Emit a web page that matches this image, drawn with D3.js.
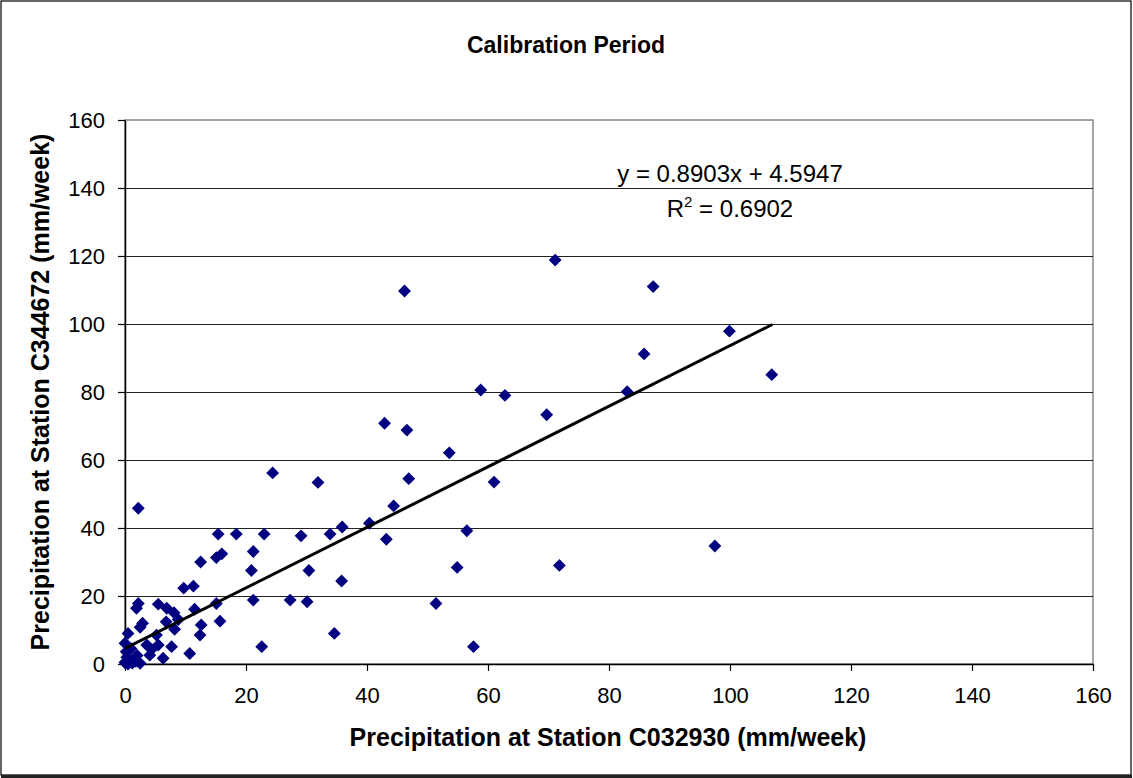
<!DOCTYPE html>
<html>
<head>
<meta charset="utf-8">
<script src="https://cdn.jsdelivr.net/npm/d3@7"></script>
<style>
  html, body { margin: 0; padding: 0; background: #fff; }
  svg { display: block; font-family: "Liberation Sans", Arial, Helvetica, sans-serif; }
</style>
</head>
<body>
<svg id="chart" width="1133" height="778"></svg>
<script>
// ---- data ----
const stationX = [71.1, 87.3, 46.2, 99.9, 85.8, 106.9, 58.8, 62.8, 83.0, 69.7,
  42.9, 46.6, 53.6, 24.4, 31.9, 46.9, 61.0, 44.4, 2.2, 35.9,
  40.4, 29.1, 33.9, 43.2, 56.5, 15.4, 18.4, 23.0, 21.2, 16.0,
  15.1, 12.5, 20.9, 30.4, 35.8, 54.9, 71.8, 97.5, 9.7, 11.3,
  21.2, 27.3, 30.1, 51.4, 15.1, 2.2, 1.9, 5.5, 6.9, 8.1,
  11.5, 15.7, 34.6, 57.6, 22.6, 2.9, 2.5, 6.8, 8.8, 8.2,
  12.6, 12.4, 5.2, 0.5, 0.0, 3.6, 4.4, 5.5, 4.1, 7.7,
  6.3, 10.7, 0.2, 0.3, 0.8, 1.2, 0.1, 1.8, 0.5, 2.0,
  1.0, 0.0, 1.5, 2.5];
const stationY = [118.8, 111.0, 109.7, 97.9, 91.2, 85.1, 80.6, 79.0, 80.1, 73.3,
  70.8, 68.8, 62.1, 56.2, 53.4, 54.5, 53.5, 46.5, 45.8, 40.3,
  41.4, 37.7, 38.2, 36.7, 39.2, 38.2, 38.2, 38.2, 33.1, 32.4,
  31.3, 30.0, 27.5, 27.5, 24.4, 28.4, 29.0, 34.7, 22.3, 22.9,
  18.8, 18.8, 18.3, 17.8, 17.8, 17.8, 16.4, 17.6, 16.4, 15.1,
  16.1, 12.6, 9.0, 5.1, 5.1, 12.0, 10.8, 12.4, 13.1, 10.2,
  11.5, 8.5, 8.5, 9.0, 6.1, 5.6, 4.3, 5.6, 2.6, 5.1,
  1.7, 3.1, 3.6, 2.0, 1.0, 0.3, 0.2, 0.8, 0.0, 2.5,
  4.5, 0.5, 1.5, 0.2];
const xTicks = [0, 20, 40, 60, 80, 100, 120, 140, 160];
const yTicks = [0, 20, 40, 60, 80, 100, 120, 140, 160];
const slope = 0.8903;
const intercept = 4.5947;
const trendRange = [0, 107];
const chartTitle = "Calibration Period";
const xTitle = "Precipitation at Station C032930 (mm/week)";
const yTitle = "Precipitation at Station C344672 (mm/week)";
const eqText = "y = 0.8903x + 4.5947";
const r2Value = "0.6902";

// ---- layout ----
const svg = d3.select("#chart");
const plot = { left: 125, top: 120, right: 1093, bottom: 664 };
const x = d3.scaleLinear().domain([0, 160]).range([plot.left, plot.right]);
const y = d3.scaleLinear().domain([0, 160]).range([plot.bottom, plot.top]);

// outer frame
svg.append("rect").attr("x", 1).attr("y", 1).attr("width", 1130).attr("height", 774)
  .attr("fill", "#fff").attr("stroke", "#000").attr("stroke-width", 1.2);
svg.append("line").attr("x1", 1).attr("x2", 1132).attr("y1", 776.5).attr("y2", 776.5)
  .attr("stroke", "#222").attr("stroke-width", 3);

// plot border (gray)
svg.append("rect").attr("x", plot.left).attr("y", plot.top)
  .attr("width", plot.right - plot.left).attr("height", plot.bottom - plot.top)
  .attr("fill", "none").attr("stroke", "#888").attr("stroke-width", 1.5);

// gridlines
svg.append("g").selectAll("line").data(yTicks.filter(d => d > 0 && d < 160)).join("line")
  .attr("x1", plot.left).attr("x2", plot.right)
  .attr("y1", d => Math.round(y(d)) + 0.5).attr("y2", d => Math.round(y(d)) + 0.5)
  .attr("stroke", "#222").attr("stroke-width", 1.2);

// axes
const xAxis = d3.axisBottom(x).tickValues(xTicks).tickSize(7).tickSizeOuter(0).tickPadding(16);
const yAxis = d3.axisLeft(y).tickValues(yTicks).tickSize(7).tickSizeOuter(0).tickPadding(13);
const gx = svg.append("g").attr("transform", `translate(0,${plot.bottom})`).call(xAxis);
const gy = svg.append("g").attr("transform", `translate(${plot.left},0)`).call(yAxis);
[gx, gy].forEach(g => {
  g.select(".domain").attr("stroke", "#000").attr("stroke-width", 1.5);
  g.selectAll(".tick line").attr("stroke", "#000").attr("stroke-width", 1.2);
  g.selectAll(".tick text").attr("fill", "#000")
    .style("font-size", "22px").style("font-family", '"Liberation Sans", Arial, sans-serif');
});
gy.selectAll(".tick text").attr("dy", "0.35em");

// points (diamonds)
const diamond = d3.symbol().type(d3.symbolDiamond2).size(105);
const pts = stationX.map((v, i) => [v, stationY[i]]);
svg.append("g").selectAll("path").data(pts).join("path")
  .attr("d", diamond)
  .attr("transform", d => `translate(${x(d[0])},${y(d[1])})`)
  .attr("fill", "#000080");

// trendline
svg.append("line")
  .attr("x1", x(trendRange[0])).attr("y1", y(slope * trendRange[0] + intercept))
  .attr("x2", x(trendRange[1])).attr("y2", y(slope * trendRange[1] + intercept))
  .attr("stroke", "#000").attr("stroke-width", 3);

// equation
svg.append("text").attr("x", 730).attr("y", 182).attr("text-anchor", "middle")
  .style("font-size", "24px").text(eqText);
const r2 = svg.append("text").attr("x", 730).attr("y", 217).attr("text-anchor", "middle")
  .style("font-size", "24px");
r2.append("tspan").text("R");
r2.append("tspan").attr("dy", -10).style("font-size", "15px").text("2");
r2.append("tspan").attr("dy", 10).text(" = " + r2Value);

// titles
svg.append("text").attr("x", 566).attr("y", 53).attr("text-anchor", "middle")
  .style("font-size", "23px").style("font-weight", "bold").text(chartTitle);
svg.append("text").attr("x", 608).attr("y", 746).attr("text-anchor", "middle")
  .style("font-size", "25px").style("font-weight", "bold").text(xTitle);
svg.append("text").attr("transform", `translate(49,${(plot.top + plot.bottom) / 2}) rotate(-90)`)
  .attr("text-anchor", "middle")
  .style("font-size", "25px").style("font-weight", "bold").text(yTitle);
</script>
</body>
</html>
